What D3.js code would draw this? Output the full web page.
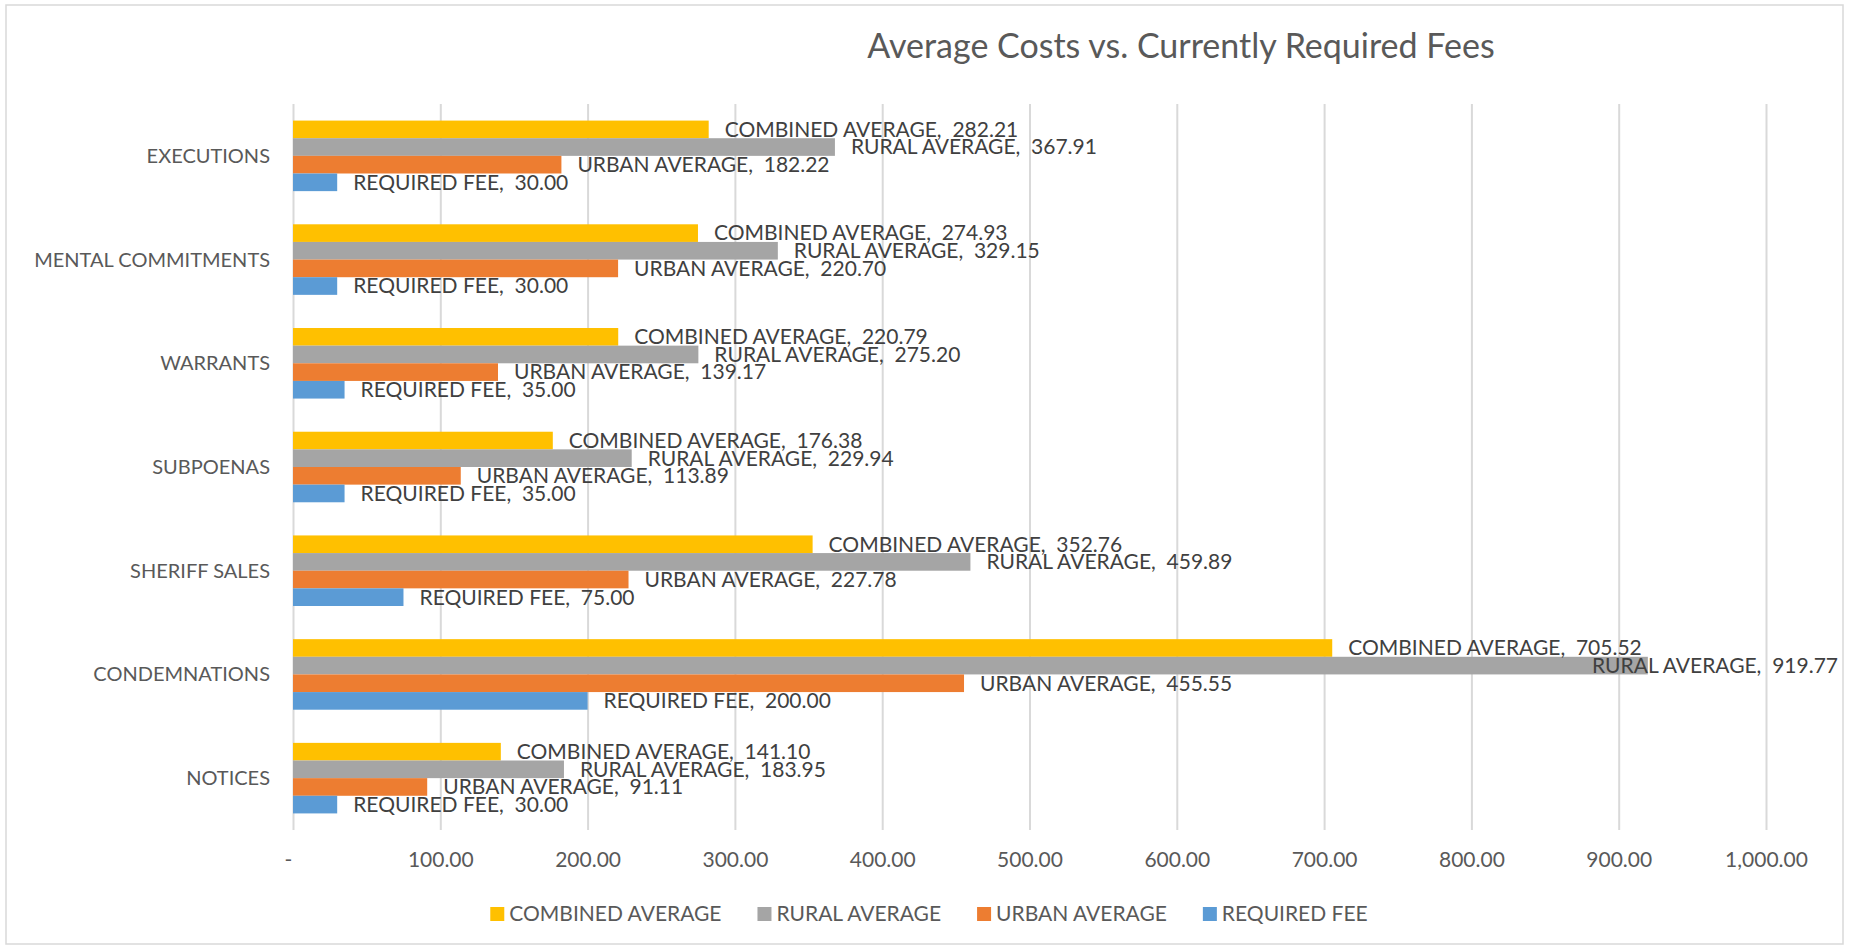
<!DOCTYPE html>
<html>
<head>
<meta charset="utf-8">
<script src="https://cdn.jsdelivr.net/npm/d3@7"></script>
<style>
    body { margin: 0; background: #fff; }
    text { font-family: Lato, "Open Sans", sans-serif; }
</style>
</head>
<body>
<div id="chart"></div>
<script>
// categories from top to bottom
var categories = ["EXECUTIONS", "MENTAL COMMITMENTS", "WARRANTS", "SUBPOENAS", "SHERIFF SALES", "CONDEMNATIONS", "NOTICES"];

var seriesNames = ["COMBINED AVERAGE", "RURAL AVERAGE", "URBAN AVERAGE", "REQUIRED FEE"];
var seriesColors = ["#FFC000", "#A5A5A5", "#ED7D31", "#5B9BD5"];

var combinedAverage = [282.21, 274.93, 220.79, 176.38, 352.76, 705.52, 141.10];
var ruralAverage = [367.91, 329.15, 275.20, 229.94, 459.89, 919.77, 183.95];
var urbanAverage = [182.22, 220.70, 139.17, 113.89, 227.78, 455.55, 91.11];
var requiredFee = [30.00, 30.00, 35.00, 35.00, 75.00, 200.00, 30.00];

var xTicks = [0, 100, 200, 300, 400, 500, 600, 700, 800, 900, 1000];

var seriesValues = [combinedAverage, ruralAverage, urbanAverage, requiredFee];

var W = 1853, H = 949;
var margin = {top: 104, right: 87, bottom: 119, left: 293},
    width = W - margin.left - margin.right,
    height = H - margin.top - margin.bottom;

var svg = d3.select("#chart")
    .append("svg")
    .attr("width", W)
    .attr("height", H);

// chart area border
svg.append("rect")
    .attr("x", 6).attr("y", 5)
    .attr("width", 1837).attr("height", 939)
    .attr("fill", "#fff")
    .attr("stroke", "#d9d9d9")
    .attr("stroke-width", 1.5);

svg.append("text")
    .attr("x", 1181)
    .attr("y", 58)
    .attr("text-anchor", "middle")
    .style("font-size", "34px")
    .style("fill", "#595959")
    .text("Average Costs vs. Currently Required Fees");

var g = svg.append("g").attr("transform", "translate(" + margin.left + "," + margin.top + ")");

var x = d3.scaleLinear()
    .domain([0, 1000])
    .range([0, width]);

var y0 = d3.scaleBand()
    .domain(categories)
    .range([0, height])
    .padding(0);

var y1 = d3.scaleBand()
    .domain(seriesNames)
    .range([0, y0.bandwidth()])
    .paddingInner(0)
    .paddingOuter(0.94);

var fmt = d3.format(",.2f");
function tickFmt(v) { return v === 0 ? "-" : fmt(v); }

// gridlines + tick labels
var xAxis = g.append("g")
    .attr("transform", "translate(0," + height + ")")
    .call(d3.axisBottom(x).tickValues(xTicks).tickSize(-height).tickFormat(tickFmt));
xAxis.select(".domain").remove();
xAxis.selectAll("line").attr("stroke", "#d9d9d9").attr("stroke-width", 2);
xAxis.selectAll("text")
    .attr("y", 30)
    .attr("dy", ".35em")
    .attr("dx", function (d) { return d === 0 ? -5 : 0; })
    .style("font-size", "21px")
    .style("font-family", "Lato, sans-serif")
    .style("fill", "#595959");

// category labels
g.selectAll(".cat")
    .data(categories)
    .enter().append("text")
    .attr("class", "cat")
    .attr("x", -23)
    .attr("y", function (d) { return y0(d) + y0.bandwidth() / 2; })
    .attr("dy", ".35em")
    .attr("text-anchor", "end")
    .style("font-size", "20px")
    .style("fill", "#595959")
    .text(function (d) { return d; });

var rows = [];
categories.forEach(function (c, i) {
    seriesNames.forEach(function (s, j) {
        rows.push({cat: c, series: s, color: seriesColors[j], value: seriesValues[j][i]});
    });
});

g.selectAll(".bar")
    .data(rows)
    .enter().append("rect")
    .attr("class", "bar")
    .attr("x", 0)
    .attr("y", function (d) { return y0(d.cat) + y1(d.series); })
    .attr("width", function (d) { return x(d.value); })
    .attr("height", y1.bandwidth())
    .attr("fill", function (d) { return d.color; });

// data labels, pushed back inside the chart area if they overflow
var rightLimit = 1838 - margin.left;
g.selectAll(".label")
    .data(rows)
    .enter().append("text")
    .attr("class", "label")
    .attr("xml:space", "preserve")
    .style("white-space", "pre")
    .style("font-size", "21px")
    .style("fill", "#404040")
    .attr("y", function (d) { return y0(d.cat) + y1(d.series) + y1.bandwidth() / 2; })
    .attr("dy", ".35em")
    .text(function (d) { return d.series + ",  " + fmt(d.value); })
    .attr("x", function (d) {
        var lx = x(d.value) + 16;
        var w = this.getComputedTextLength();
        if (lx + w > rightLimit) lx = rightLimit - w;
        return lx;
    });

// legend
var legend = svg.append("g");
var lx = 0, gap = 36;
seriesNames.forEach(function (s, i) {
    var item = legend.append("g").attr("transform", "translate(" + lx + ",0)");
    item.append("rect")
        .attr("x", 0).attr("y", -7)
        .attr("width", 14).attr("height", 14)
        .attr("fill", seriesColors[i]);
    var t = item.append("text")
        .attr("x", 19)
        .attr("dy", ".35em")
        .style("font-size", "21px")
        .style("fill", "#595959")
        .text(s);
    lx += 19 + t.node().getComputedTextLength() + gap;
});
lx -= gap;
legend.attr("transform", "translate(" + (929 - lx / 2) + ",914)");
</script>
</body>
</html>
